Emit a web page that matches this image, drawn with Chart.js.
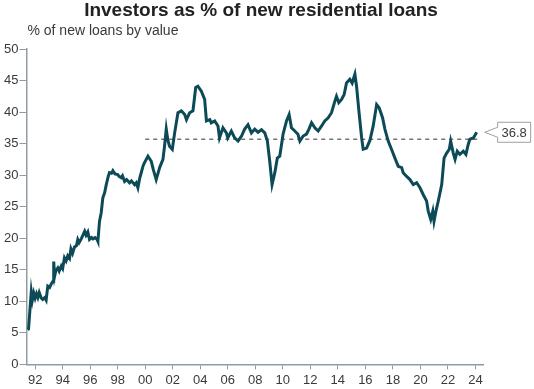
<!DOCTYPE html>
<html>
<head>
<meta charset="utf-8">
<script src="https://cdn.jsdelivr.net/npm/chart.js@4.4.1/dist/chart.umd.min.js"></script>
<style>
  html, body { margin: 0; padding: 0; background: #fff; }
  #wrap { width: 534px; height: 389px; }
</style>
</head>
<body>
<div id="wrap"><canvas id="loanChart" width="534" height="389"></canvas></div>
<script>
// INVESTOR SHARE OF NEW RESIDENTIAL LOANS
const years = [
  1991.46, 1991.52, 1991.72, 1991.8, 1991.9, 1992.0, 1992.1, 1992.2, 1992.3, 1992.45,
  1992.55, 1992.7, 1992.8, 1992.92, 1993.05, 1993.16, 1993.3, 1993.35, 1993.42, 1993.5,
  1993.65, 1993.75, 1993.9, 1994.0, 1994.13, 1994.25, 1994.37, 1994.5, 1994.6, 1994.72,
  1994.86, 1995.0, 1995.1, 1995.2, 1995.35, 1995.5, 1995.6, 1995.7, 1995.83, 1995.95,
  1996.1, 1996.2, 1996.35, 1996.5, 1996.56, 1996.68, 1996.8, 1996.92, 1997.05, 1997.17,
  1997.3, 1997.4, 1997.55, 1997.65, 1997.8, 1998.0, 1998.1, 1998.26, 1998.35, 1998.5,
  1998.65, 1998.86, 1999.0, 1999.23, 1999.35, 1999.47, 1999.6, 1999.7, 1999.85, 1999.95,
  2000.2, 2000.44, 2000.6, 2000.8, 2001.05, 2001.29, 2001.4, 2001.53, 2001.65, 2001.77,
  2001.97, 2002.14, 2002.38, 2002.63, 2002.87, 2003.0, 2003.23, 2003.47, 2003.67, 2003.83,
  2004.08, 2004.32, 2004.45, 2004.7, 2004.8, 2005.05, 2005.29, 2005.4, 2005.65, 2005.9,
  2006.0, 2006.26, 2006.5, 2006.75, 2007.0, 2007.23, 2007.47, 2007.72, 2007.96, 2008.2,
  2008.45, 2008.69, 2008.88, 2009.05, 2009.22, 2009.42, 2009.6, 2009.78, 2010.02, 2010.27,
  2010.46, 2010.63, 2010.87, 2011.1, 2011.24, 2011.48, 2011.72, 2011.9, 2012.09, 2012.33,
  2012.57, 2012.82, 2013.05, 2013.3, 2013.54, 2013.78, 2013.9, 2014.07, 2014.27, 2014.46,
  2014.63, 2014.87, 2015.04, 2015.24, 2015.36, 2015.53, 2015.73, 2015.84, 2016.09, 2016.33,
  2016.57, 2016.82, 2017.0, 2017.25, 2017.42, 2017.66, 2017.9, 2018.15, 2018.39, 2018.64,
  2018.75, 2019.0, 2019.24, 2019.48, 2019.73, 2019.97, 2020.21, 2020.45, 2020.57, 2020.75,
  2020.9, 2020.99, 2021.13, 2021.3, 2021.55, 2021.72, 2021.91, 2022.1, 2022.2, 2022.39,
  2022.52, 2022.68, 2022.87, 2023.12, 2023.31, 2023.48, 2023.6, 2023.85, 2024.09
];
const investorShare = [
  5.5, 5.6, 11.5, 10.2, 11.3, 10.5, 11.2, 10.6, 11.4, 10.5,
  10.3, 10.6, 10.2, 12.4, 12.2, 12.7, 13.2, 16.3, 14.0, 14.8,
  15.3, 14.8, 15.6, 15.2, 16.9, 16.4, 17.2, 16.8, 18.3, 17.6,
  18.6, 18.8, 19.8, 19.3, 19.9, 20.6, 21.1, 20.5, 21.0, 19.8,
  20.1, 19.9, 20.1, 19.8, 19.5, 22.7, 24.0, 26.4, 27.2, 28.5,
  29.7, 30.4, 30.3, 30.7, 30.2, 30.1, 29.8, 29.6, 29.9, 29.0,
  29.3, 28.8, 29.1, 28.5, 28.8, 28.0, 29.5, 30.3, 31.5, 32.0,
  33.0, 32.2, 30.8, 29.3, 31.2, 32.5, 34.5, 37.3, 35.5, 34.6,
  34.1, 36.7, 39.9, 40.2, 39.6, 38.8, 39.9, 40.2, 43.9, 44.1,
  43.3, 42.0, 38.6, 38.8, 38.3, 38.6, 37.8, 35.9, 37.5, 36.7,
  35.9, 37.0, 35.9, 35.4, 36.2, 37.3, 38.0, 36.7, 37.3, 36.8,
  37.2, 36.7, 35.4, 32.2, 28.5, 30.4, 32.7, 33.0, 36.5, 38.6,
  39.6, 37.5, 37.0, 36.5, 35.4, 36.2, 36.5, 37.3, 38.3, 37.5,
  37.0, 37.8, 38.6, 39.1, 39.9, 41.7, 42.5, 41.5, 42.0, 42.8,
  44.6, 45.2, 44.6, 46.0, 44.1, 40.2, 35.9, 34.1, 34.3, 35.5,
  37.8, 41.2, 40.7, 39.1, 37.3, 35.4, 34.1, 32.7, 31.4, 31.2,
  30.4, 29.8, 29.3, 28.5, 28.8, 28.0, 26.9, 25.9, 24.3, 23.0,
  24.3, 22.7, 24.3, 25.9, 28.5, 32.7, 33.5, 34.1, 35.4, 33.5,
  32.5, 33.8, 33.3, 33.8, 33.3, 34.9, 35.7, 35.9, 36.8
];

// AVERAGE SINCE 2000 (dashed reference line)
const avgYears = [2000.0, 2024.2];
const avgLevel = [35.7, 35.7];

// AXIS TICKS
const xTickYears = [1992, 1994, 1996, 1998, 2000, 2002, 2004, 2006, 2008, 2010,
  2012, 2014, 2016, 2018, 2020, 2022, 2024];
const yTickValues = [0, 5, 10, 15, 20, 25, 30, 35, 40, 45, 50];

const latestLabel = '36.8';
const chartTitle = 'Investors as % of new residential loans';
const unitLabel = '% of new loans by value';

const axisGrey = '#8f9ba3';
const textGrey = '#3a3a3a';
const lineColour = '#0d4a57';
const fontFamily = '"Liberation Sans", Arial, sans-serif';

// title, subtitle + end-of-line callout
const extrasPlugin = {
    id: 'extras',
    afterDraw(chart) {
        const ctx = chart.ctx;
        const area = chart.chartArea;
        ctx.save();
        ctx.fillStyle = '#222';
        ctx.font = 'bold 19px ' + fontFamily;
        ctx.textAlign = 'center';
        ctx.textBaseline = 'middle';
        ctx.fillText(chartTitle, 261, 11);

        ctx.fillStyle = textGrey;
        ctx.font = '14px ' + fontFamily;
        ctx.textAlign = 'left';
        ctx.fillText(unitLabel, area.left + 1, 31);

        const n = years.length - 1;
        const px = chart.scales.x.getPixelForValue(years[n]);
        const py = chart.scales.y.getPixelForValue(investorShare[n]);
        const tip = px + 8;
        const left = tip + 13, right = left + 33, top = py - 10, bottom = py + 10;
        ctx.beginPath();
        ctx.moveTo(tip, py);
        ctx.lineTo(left, py - 5);
        ctx.lineTo(left, top);
        ctx.lineTo(right, top);
        ctx.lineTo(right, bottom);
        ctx.lineTo(left, bottom);
        ctx.lineTo(left, py + 5);
        ctx.closePath();
        ctx.fillStyle = '#fff';
        ctx.fill();
        ctx.strokeStyle = '#9aa0a4';
        ctx.lineWidth = 1;
        ctx.stroke();
        ctx.fillStyle = textGrey;
        ctx.font = '13px ' + fontFamily;
        ctx.textAlign = 'center';
        ctx.fillText(latestLabel, (left + right) / 2, py + 1);
        ctx.restore();
    }
};

new Chart(document.getElementById('loanChart'), {
    type: 'line',
    data: {
        datasets: [{
            data: years.map((x, i) => ({ x: x, y: investorShare[i] })),
            borderColor: lineColour,
            borderWidth: 3,
            pointRadius: 0,
            tension: 0,
            fill: false
        }, {
            data: avgYears.map((x, i) => ({ x: x, y: avgLevel[i] })),
            borderColor: '#555',
            borderWidth: 1.2,
            borderDash: [4, 4],
            pointRadius: 0,
            fill: false
        }]
    },
    options: {
        responsive: false,
        animation: false,
        layout: { padding: { left: 3, right: 51, top: 49, bottom: -2 } },
        plugins: {
            legend: { display: false },
            tooltip: { enabled: false },
            title: { display: false }
        },
        scales: {
            x: {
                type: 'linear',
                min: 1991.37,
                max: 2024.55,
                afterBuildTicks: (s) => { s.ticks = xTickYears.map(v => ({ value: v })); },
                ticks: {
                    color: textGrey,
                    font: { family: fontFamily, size: 13 },
                    padding: 3,
                    maxRotation: 0,
                    autoSkip: false,
                    callback: (v) => String(v % 100).padStart(2, '0')
                },
                grid: { drawOnChartArea: false, color: axisGrey, tickLength: 5 },
                border: { color: axisGrey, width: 1.5 }
            },
            y: {
                min: 0,
                max: 50,
                afterBuildTicks: (s) => { s.ticks = yTickValues.map(v => ({ value: v })); },
                ticks: {
                    color: textGrey,
                    font: { family: fontFamily, size: 13 },
                    padding: 1
                },
                grid: { drawOnChartArea: false, color: axisGrey, tickLength: 7 },
                border: { color: axisGrey, width: 1.5 }
            }
        }
    },
    plugins: [extrasPlugin]
});
</script>
</body>
</html>
